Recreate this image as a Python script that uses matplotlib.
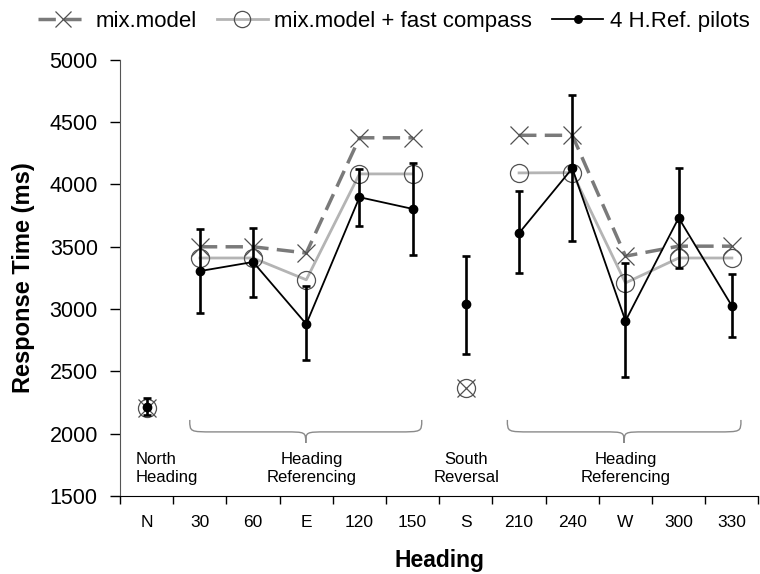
import matplotlib
matplotlib.use("Agg")
import matplotlib.pyplot as plt
import numpy as np
from matplotlib.path import Path
from matplotlib.patches import PathPatch

plt.rcParams["font.family"] = ["Liberation Sans", "DejaVu Sans"]

headings = ["N", "30", "60", "E", "120", "150", "S", "210", "240", "W", "300", "330"]
mix_model = [2206, 3500, 3500, 3450, 4375, 4375, 2367, 4395, 4395, 3425, 3505, 3505]
mix_fast = [2206, 3410, 3410, 3235, 4085, 4085, 2367, 4093, 4095, 3210, 3410, 3410]
pilots = [2215, 3305, 3378, 2880, 3898, 3804, 3040, 3610, 4130, 2905, 3732, 3025]
pilots_hi = [2290, 3643, 3651, 3186, 4125, 4173, 3427, 3948, 4719, 3371, 4133, 3282]
pilots_lo = [2150, 2969, 3098, 2592, 3667, 3435, 2640, 3290, 3547, 2455, 3330, 2776]

# line segments are broken at the north / south reference headings
groups = [[0], [1, 2, 3, 4, 5], [6], [7, 8, 9, 10, 11]]
group_labels = ["North\nHeading", "Heading\nReferencing", "South\nReversal", "Heading\nReferencing"]
label_x = [-0.2, 3.1, 6.01, 9.0]
braces = [(0.81, 5.17), (6.78, 11.17)]


def draw_brace(ax, x0, x1, ytop, ymid, ytip, w=0.45, wc=0.4):
    xc = (x0 + x1) / 2
    verts = [
        (x0, ytop), (x0, ymid), (x0, ymid), (x0 + w, ymid),
        (xc - wc, ymid),
        (xc, ymid), (xc, ymid), (xc, ytip),
        (xc, ymid), (xc, ymid), (xc + wc, ymid),
        (x1 - w, ymid),
        (x1, ymid), (x1, ymid), (x1, ytop),
    ]
    codes = [Path.MOVETO, Path.CURVE4, Path.CURVE4, Path.CURVE4,
             Path.LINETO,
             Path.CURVE4, Path.CURVE4, Path.CURVE4,
             Path.CURVE4, Path.CURVE4, Path.CURVE4,
             Path.LINETO,
             Path.CURVE4, Path.CURVE4, Path.CURVE4]
    ax.add_patch(PathPatch(Path(verts, codes), fill=False, ec="#8a8a8a", lw=1.0, clip_on=False))


def main():
    x = np.arange(len(headings))
    mm = np.array(mix_model)
    mf = np.array(mix_fast)
    pl = np.array(pilots)
    hi = np.array(pilots_hi)
    lo = np.array(pilots_lo)

    fig = plt.figure(figsize=(7.6, 5.74), dpi=100)
    ax = fig.add_axes([0.158, 0.136, 0.84, 0.7596])

    for g in groups:
        h1, = ax.plot(x[g], mm[g], color="#7a7a7a", lw=2.5, dashes=(5, 2.4),
                      marker="x", ms=13, mew=0.9, mec="#505050", zorder=2)
        h2, = ax.plot(x[g], mf[g], color="#b4b4b4", lw=2.0,
                      marker="o", ms=13, mfc="none", mew=0.9, mec="#505050", zorder=3)
    ax.errorbar(x, pl, yerr=[pl - lo, hi - pl], fmt="none", ecolor="black",
                elinewidth=1.9, capsize=3, capthick=1.9, zorder=4)
    for g in groups:
        h3, = ax.plot(x[g], pl[g], color="black", lw=1.3,
                      marker="o", ms=6, zorder=5)

    ax.set_xlim(-0.5, len(headings) - 0.5)
    ax.set_ylim(1500, 5000)
    ax.set_yticks(np.arange(1500, 5001, 500))
    ax.set_xticks(x)
    ax.set_xticklabels(headings, fontsize=12.5)
    ax.set_xticks(np.arange(-0.5, len(headings)), minor=True)
    ax.tick_params(axis="x", which="major", length=0, pad=14)
    ax.tick_params(axis="x", which="minor", length=6, width=1, direction="out")
    ax.tick_params(axis="y", labelsize=15.5, length=7, width=1, direction="out", pad=9)
    for s in ("top", "right"):
        ax.spines[s].set_visible(False)
    ax.spines["left"].set_color("#555555")
    ax.spines["bottom"].set_color("black")

    ax.set_ylabel("Response Time (ms)", fontsize=17, fontweight="bold", va="center")
    ax.yaxis.set_label_coords(-0.151, 0.5)
    ax.set_xlabel("Heading", fontsize=16.5, fontweight="bold", va="center")
    ax.xaxis.set_label_coords(0.5, -0.147)

    for (b0, b1) in braces:
        draw_brace(ax, b0, b1, 2110, 2014, 1925)
    for i, (lx, lab) in enumerate(zip(label_x, group_labels)):
        ha = "left" if i == 0 else "center"
        ax.text(lx, 1720, lab, ha=ha, va="center", fontsize=12, color="black",
                linespacing=1.25)

    fig.legend([h1, h2, h3], ["mix.model", "mix.model + fast compass", "4 H.Ref. pilots"],
               loc="center", bbox_to_anchor=(0.518, 0.963), ncol=3, frameon=False,
               fontsize=16, handlelength=2.3, handletextpad=0.3, columnspacing=0.9,
               markerscale=0.9)

    fig.savefig("out.png", dpi=100)


if __name__ == "__main__":
    main()
